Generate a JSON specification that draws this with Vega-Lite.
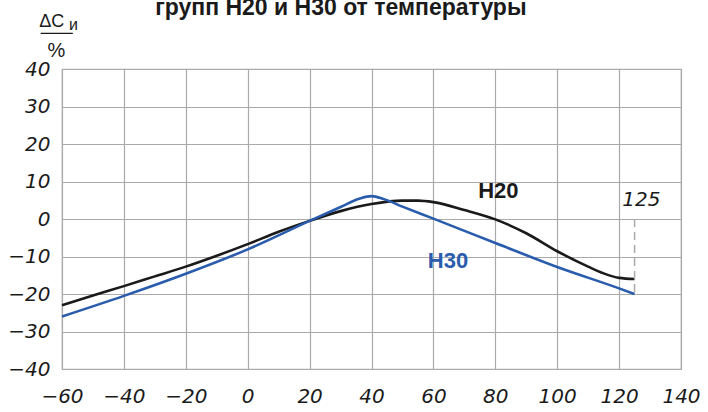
{
  "$schema": "https://vega.github.io/schema/vega-lite/v6.json",
  "width": 619,
  "height": 300,
  "autosize": {"type": "none"},
  "padding": {"left": 62, "top": 69, "right": 27, "bottom": 43},
  "background": "white",
  "config": {
    "view": {"stroke": "#aaaaaa", "strokeWidth": 1.2}
  },
  "layer": [
    {
      "data": {
        "values": [
          {"series": "Н20", "t": -60, "v": -23.0},
          {"series": "Н20", "t": -50, "v": -20.4},
          {"series": "Н20", "t": -40, "v": -17.9},
          {"series": "Н20", "t": -30, "v": -15.3},
          {"series": "Н20", "t": -20, "v": -12.7},
          {"series": "Н20", "t": -10, "v": -9.8},
          {"series": "Н20", "t": 0, "v": -6.7},
          {"series": "Н20", "t": 10, "v": -3.4},
          {"series": "Н20", "t": 20, "v": -0.5},
          {"series": "Н20", "t": 30, "v": 2.1},
          {"series": "Н20", "t": 40, "v": 4.0},
          {"series": "Н20", "t": 50, "v": 4.9},
          {"series": "Н20", "t": 55, "v": 4.9},
          {"series": "Н20", "t": 60, "v": 4.5},
          {"series": "Н20", "t": 70, "v": 2.4},
          {"series": "Н20", "t": 80, "v": -0.1},
          {"series": "Н20", "t": 90, "v": -3.8},
          {"series": "Н20", "t": 100, "v": -8.6},
          {"series": "Н20", "t": 110, "v": -12.7},
          {"series": "Н20", "t": 115, "v": -14.5},
          {"series": "Н20", "t": 120, "v": -15.7},
          {"series": "Н20", "t": 125, "v": -16.0},
          {"series": "Н30", "t": -60, "v": -26.0},
          {"series": "Н30", "t": -40, "v": -20.5},
          {"series": "Н30", "t": -20, "v": -14.6},
          {"series": "Н30", "t": 0, "v": -8.1},
          {"series": "Н30", "t": 20, "v": -0.5},
          {"series": "Н30", "t": 30, "v": 3.2},
          {"series": "Н30", "t": 36, "v": 5.4},
          {"series": "Н30", "t": 40, "v": 6.1},
          {"series": "Н30", "t": 44, "v": 5.3},
          {"series": "Н30", "t": 50, "v": 3.3},
          {"series": "Н30", "t": 60, "v": 0.1},
          {"series": "Н30", "t": 80, "v": -6.4},
          {"series": "Н30", "t": 100, "v": -12.8},
          {"series": "Н30", "t": 120, "v": -18.5},
          {"series": "Н30", "t": 125, "v": -20.0}
        ]
      },
      "mark": {"type": "line", "strokeWidth": 2.6, "interpolate": "monotone"},
      "encoding": {
        "x": {
          "field": "t",
          "type": "quantitative",
          "scale": {"domain": [-60, 140], "nice": false, "zero": false},
          "axis": {
            "values": [-60, -40, -20, 0, 20, 40, 60, 80, 100, 120, 140],
            "title": null, "domain": false, "ticks": false,
            "gridColor": "#aaaaaa", "gridWidth": 1.2, "gridOpacity": 1,
            "labelFont": "DejaVu Sans", "labelFontStyle": "oblique", "labelFontWeight": 400,
            "labelFontSize": 20, "labelColor": "#1a1a1a",
            "labelPadding": 17, "labelFlush": false, "labelOverlap": false, "labelSeparation": 0
          }
        },
        "y": {
          "field": "v",
          "type": "quantitative",
          "scale": {"domain": [-40, 40], "nice": false, "zero": false},
          "axis": {
            "values": [-40, -30, -20, -10, 0, 10, 20, 30, 40],
            "tickCount": 9,
            "title": null, "domain": false, "ticks": false,
            "gridColor": "#aaaaaa", "gridWidth": 1.2, "gridOpacity": 1,
            "labelFont": "DejaVu Sans", "labelFontStyle": "oblique", "labelFontWeight": 400,
            "labelFontSize": 20, "labelColor": "#1a1a1a",
            "labelPadding": 12, "labelFlush": false, "labelOverlap": false, "labelSeparation": 0
          }
        },
        "color": {
          "field": "series",
          "type": "nominal",
          "scale": {"domain": ["Н20", "Н30"], "range": ["#1a1a1a", "#2a5cad"]},
          "legend": null
        }
      }
    },
    {
      "data": {"values": [{}]},
      "mark": {"type": "rule", "color": "#aaaaaa", "strokeWidth": 1.5, "strokeDash": [8, 5]},
      "encoding": {
        "x": {"datum": 125},
        "y": {"datum": 0},
        "y2": {"datum": -20.6}
      }
    },
    {
      "data": {"values": [{}]},
      "mark": {"type": "text", "text": "групп Н20 и Н30 от температуры", "font": "Liberation Sans", "fontWeight": "bold", "fontSize": 23, "color": "#1a1a1a", "align": "center", "baseline": "alphabetic"},
      "encoding": {"x": {"datum": 30.1}, "y": {"datum": 54.5}}
    },
    {
      "data": {"values": [{}]},
      "mark": {"type": "text", "text": "Н20", "font": "Liberation Sans", "fontWeight": "bold", "fontSize": 22, "color": "#1a1a1a", "align": "center", "baseline": "middle"},
      "encoding": {"x": {"datum": 81}, "y": {"datum": 7.6}}
    },
    {
      "data": {"values": [{}]},
      "mark": {"type": "text", "text": "Н30", "font": "Liberation Sans", "fontWeight": "bold", "fontSize": 22, "color": "#2a5cad", "align": "center", "baseline": "middle"},
      "encoding": {"x": {"datum": 64.7}, "y": {"datum": -11.1}}
    },
    {
      "data": {"values": [{}]},
      "mark": {"type": "text", "text": "125", "font": "DejaVu Sans", "fontStyle": "oblique", "fontWeight": "normal", "fontSize": 20, "color": "#1a1a1a", "align": "center", "baseline": "middle"},
      "encoding": {"x": {"datum": 127.2}, "y": {"datum": 5.1}}
    },
    {
      "data": {"values": [{}]},
      "mark": {"type": "text", "text": "ΔC", "font": "Liberation Sans", "fontWeight": "normal", "fontSize": 18, "color": "#1a1a1a", "align": "center", "baseline": "alphabetic"},
      "encoding": {"x": {"datum": -63.3}, "y": {"datum": 51.1}}
    },
    {
      "data": {"values": [{}]},
      "mark": {"type": "text", "text": "и", "font": "Liberation Sans", "fontWeight": "normal", "fontSize": 16, "color": "#1a1a1a", "align": "center", "baseline": "alphabetic"},
      "encoding": {"x": {"datum": -56.3}, "y": {"datum": 50.4}}
    },
    {
      "data": {"values": [{}]},
      "mark": {"type": "rule", "color": "#1a1a1a", "strokeWidth": 1.2},
      "encoding": {"x": {"datum": -66.9}, "x2": {"datum": -56.5}, "y": {"datum": 49.5}}
    },
    {
      "data": {"values": [{}]},
      "mark": {"type": "text", "text": "%", "font": "Liberation Sans", "fontWeight": "normal", "fontSize": 20, "color": "#1a1a1a", "align": "center", "baseline": "alphabetic"},
      "encoding": {"x": {"datum": -61.8}, "y": {"datum": 43.3}}
    }
  ]
}
